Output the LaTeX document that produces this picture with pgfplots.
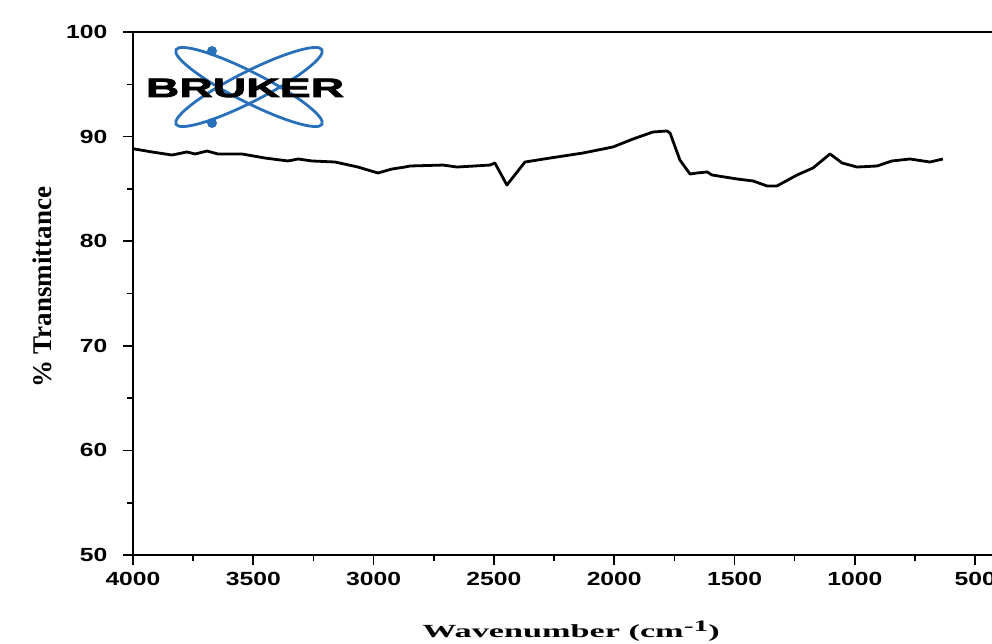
\documentclass[border=0pt]{standalone}
\usepackage{pgfplots}
\pgfplotsset{compat=1.18}
\usepackage{fontspec}
\setmainfont{Liberation Serif}
\newfontfamily\tickfont[FakeStretch=1.3]{Liberation Sans}
\newfontfamily\xlabfont[FakeStretch=1.85]{Liberation Serif}
\newfontfamily\logofont[FakeStretch=1.75,FakeBold=3]{Liberation Sans}
\usetikzlibrary{calc}
\definecolor{logoblue}{RGB}{40,112,185}

\begin{document}
\begin{tikzpicture}
\begin{axis}[
  name=ax,
  scale only axis,
  width=859pt, height=523pt,
  x dir=reverse,
  xmin=430, xmax=4000,
  ymin=50, ymax=100,
  axis x line*=bottom, axis y line*=left,
  axis line style={line width=1.6pt,-},
  xtick={500,1000,...,4000},
  minor xtick={750,1250,...,3750},
  ytick={50,60,...,100},
  minor ytick={55,65,...,95},
  tick align=outside,
  major tick length=10pt, minor tick length=6pt,
  tick style={black, line width=1.6pt},
  /pgf/number format/assume math mode=true,
  /pgf/number format/1000 sep={},
  ticklabel style={font=\tickfont\bfseries\fontsize{19}{19}\selectfont},
  xticklabel style={yshift=-4pt},
  yticklabel style={xshift=-12pt},
  xlabel={\xlabfont\bfseries\fontsize{18.5}{18.5}\selectfont Wavenumber (cm\raisebox{0.6ex}{\fontsize{16}{16}\selectfont -1})},
  xlabel style={at={(axis description cs:0.51,0)}, anchor=base, yshift=-82pt},
  ylabel={\bfseries\fontsize{27}{27}\selectfont \% Transmittance},
  ylabel style={at={(axis description cs:0,0.512)}, anchor=center, yshift=91pt},
  clip=false,
]
\addplot[black, line width=2.8pt, line join=round] coordinates {
(4000,88.85) (3992,88.81) (3921,88.53) (3838,88.24) (3776,88.53) (3742,88.34)
(3692,88.62) (3647,88.34) (3547,88.34) (3451,87.95) (3356,87.67) (3314,87.86)
(3256,87.67) (3160,87.57) (3065,87.09) (2982,86.52) (2924,86.90) (2870,87.09)
(2849,87.19) (2712,87.28) (2653,87.09) (2516,87.28) (2496,87.48) (2446,85.37)
(2371,87.57) (2267,87.95) (2130,88.43) (2005,89.01) (1922,89.77) (1839,90.44)
(1781,90.54) (1768,90.34) (1727,87.76) (1685,86.42) (1656,86.52) (1614,86.62)
(1594,86.33) (1490,85.95) (1423,85.76) (1365,85.28) (1324,85.28) (1240,86.33)
(1174,87.0) (1103,88.34) (1053,87.48) (991,87.09) (908,87.19) (846,87.67)
(771,87.86) (688,87.57) (634,87.86)
};
\draw[line width=1.6pt] (rel axis cs:0,1) -- (rel axis cs:1,1);
\end{axis}
\begin{scope}[shift={($(ax.south west)+(-133pt,555pt)$)}, x=1pt, y=-1pt]
  \draw[logoblue, line width=2.8pt, rotate around={27:(249,87)}] (249,87) ellipse (82 and 15);
  \draw[logoblue, line width=2.8pt, rotate around={-27:(249,87)}] (249,87) ellipse (82 and 15);
  \fill[logoblue] (212,51) circle (5);
  \fill[logoblue] (212,123) circle (5);
  \node[inner sep=0pt, font=\logofont\bfseries\fontsize{26.5}{26.5}\selectfont] at (245,88) {BRUKER};
\end{scope}
\pgfresetboundingbox
\path ($(ax.south west)+(-133pt,-88pt)$) rectangle ($(ax.south west)+(859pt,555pt)$);
\end{tikzpicture}
\end{document}
